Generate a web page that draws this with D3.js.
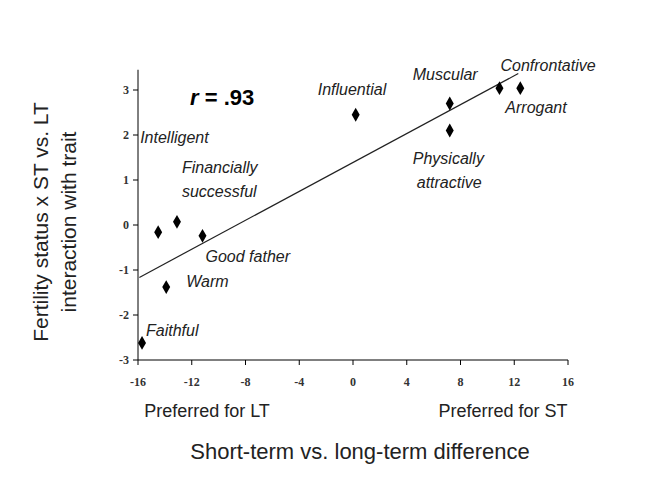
<!DOCTYPE html><html><head><meta charset="utf-8"><script src="https://cdn.jsdelivr.net/npm/d3@7"></script>
<style>body{margin:0;background:#fff}</style></head><body><svg id="c" width="665" height="487"></svg>
<script>
const traits=["Faithful","Warm","Intelligent","Financially|successful","Good father","Influential","Physically|attractive","Muscular","Confrontative","Arrogant"];
const xVals=[-15.7,-13.9,-14.5,-13.1,-11.2,0.2,7.2,7.2,10.9,12.45];
const yVals=[-2.62,-1.38,-0.16,0.07,-0.24,2.45,2.1,2.7,3.04,3.04];
const xTicks=[-16,-12,-8,-4,0,4,8,12,16];
const yTicks=[-3,-2,-1,0,1,2,3];
// label offsets in px relative to point: [dx, dy]
const labelOff=[[4,-7],[20,0],[-18,-89],[5,-49],[3,26],[-38,-20],[-37,33],[-37,-24],[1,-17],[-15,25]];
const svg=d3.select("#c");
const x=d3.scaleLinear().domain([-16,16]).range([138,568]);
const y=d3.scaleLinear().domain([-3,3]).range([360,90]);
const g=svg.append("g");
g.append("line").attr("x1",x(-16)).attr("x2",x(16)).attr("y1",360).attr("y2",360).attr("stroke","#000");
g.append("line").attr("x1",138).attr("x2",138).attr("y1",360).attr("y2",y(3.45)).attr("stroke","#000");
xTicks.forEach(t=>{g.append("line").attr("x1",x(t)).attr("x2",x(t)).attr("y1",360).attr("y2",365).attr("stroke","#000");
 g.append("text").attr("x",x(t)).attr("y",386).attr("text-anchor","middle").attr("font-family","Liberation Serif").attr("font-weight","bold").attr("font-size",12).attr("fill","#333").text(t);});
yTicks.forEach(t=>{g.append("line").attr("x1",133).attr("x2",138).attr("y1",y(t)).attr("y2",y(t)).attr("stroke","#000");
 g.append("text").attr("x",129).attr("y",y(t)+4).attr("text-anchor","end").attr("font-family","Liberation Serif").attr("font-weight","bold").attr("font-size",12).attr("fill","#333").text(t);});
const mx=d3.mean(xVals),my=d3.mean(yVals);
const b=d3.sum(xVals,(v,i)=>(v-mx)*(yVals[i]-my))/d3.sum(xVals,v=>(v-mx)**2);
const a=my-b*mx;
const x0=-15.9,x1=12.3;
g.append("line").attr("x1",x(x0)).attr("y1",y(a+b*x0)).attr("x2",x(x1)).attr("y2",y(a+b*x1)).attr("stroke","#222").attr("stroke-width",1.2);
g.selectAll("path.pt").data(xVals).join("path").attr("d",d3.symbol(d3.symbolDiamond,55)).attr("transform",(d,i)=>`translate(${x(d)},${y(yVals[i])})`).attr("fill","#000");
traits.forEach((t,i)=>{const o=labelOff[i];const lines=t.split("|");
 const tx=g.append("text").attr("x",x(xVals[i])+o[0]).attr("y",y(yVals[i])+o[1]).attr("font-family","Liberation Sans").attr("font-style","italic").attr("font-size",16).attr("fill","#222");
 lines.forEach((w,k)=>tx.append("tspan").attr("x",x(xVals[i])+o[0]+(k?(i==6?4:0):0)).attr("dy",k?24:0).text(w));});
const r=g.append("text").attr("x",190).attr("y",105).attr("font-family","Liberation Sans").attr("font-weight","bold").attr("font-size",22);
r.append("tspan").attr("font-style","italic").text("r");r.append("tspan").text(" = .93");
g.append("text").attr("x",207).attr("y",417).attr("text-anchor","middle").attr("font-family","Liberation Sans").attr("font-size",18).attr("fill","#222").text("Preferred for LT");
g.append("text").attr("x",503).attr("y",417).attr("text-anchor","middle").attr("font-family","Liberation Sans").attr("font-size",18).attr("fill","#222").text("Preferred for ST");
g.append("text").attr("x",360).attr("y",459).attr("text-anchor","middle").attr("font-family","Liberation Sans").attr("font-size",22).attr("fill","#222").text("Short-term vs. long-term difference");
const yl=g.append("text").attr("transform","translate(62,222) rotate(-90)").attr("text-anchor","middle").attr("font-family","Liberation Sans").attr("font-size",21).attr("fill","#222");
yl.append("tspan").attr("x",0).attr("y",-14).text("Fertility status x ST vs. LT");
yl.append("tspan").attr("x",0).attr("y",14).text("interaction with trait");
</script></body></html>
